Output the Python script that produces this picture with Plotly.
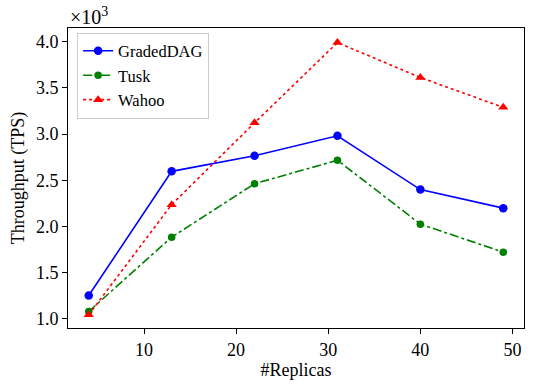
import plotly.graph_objects as go

replicas = [4, 13, 22, 31, 40, 49]
graded_dag = [1.254, 2.597, 2.766, 2.981, 2.400, 2.199]
tusk = [1.081, 1.885, 2.463, 2.717, 2.026, 1.723]
wahoo = [1.046, 2.237, 3.122, 3.990, 3.612, 3.289]
x_ticks = [10, 20, 30, 40, 50]
y_ticks = [1.0, 1.5, 2.0, 2.5, 3.0, 3.5, 4.0]

FONT = "Liberation Serif, Times New Roman, serif"

fig = go.Figure()
fig.add_trace(go.Scatter(x=replicas, y=graded_dag, name="GradedDAG", mode="lines+markers",
                         line=dict(color="#0000ff", width=1.6, dash="solid"),
                         marker=dict(symbol="circle", size=8.5, color="#0000ff")))
fig.add_trace(go.Scatter(x=replicas, y=tusk, name="Tusk", mode="lines+markers",
                         line=dict(color="#008000", width=1.6, dash="dashdot"),
                         marker=dict(symbol="circle", size=7.5, color="#008000")))
fig.add_trace(go.Scatter(x=replicas, y=wahoo, name="Wahoo", mode="lines+markers",
                         line=dict(color="#ff0000", width=1.6, dash="dot"),
                         marker=dict(symbol="triangle-up", size=9, color="#ff0000")))

axis_common = dict(showgrid=False, zeroline=False, showline=True, linecolor="black",
                   linewidth=1, mirror=True, ticks="outside", ticklen=5, tickcolor="black",
                   tickfont=dict(family=FONT, size=18, color="black"))

fig.update_layout(
    width=538, height=388,
    margin=dict(l=68, r=14, t=28, b=53),
    paper_bgcolor="white", plot_bgcolor="white",
    font=dict(family=FONT, size=18, color="black"),
    xaxis=dict(range=[1.75, 51.25], tickvals=x_ticks,
               title=dict(text="#Replicas", font=dict(family=FONT, size=18), standoff=4),
               **axis_common),
    yaxis=dict(range=[0.9025, 4.1475], tickvals=y_ticks, tickformat=".1f",
               title=dict(text="Throughput (TPS)", font=dict(family=FONT, size=18), standoff=6),
               **axis_common),
    legend=dict(x=0.02, y=0.985, xanchor="left", yanchor="top",
                bgcolor="rgba(255,255,255,0.8)", bordercolor="#cccccc", borderwidth=1,
                font=dict(family=FONT, size=16.5), tracegroupgap=0),
    showlegend=True,
    annotations=[dict(text="×10<sup>3</sup>", xref="paper", yref="paper", x=0, y=1,
                      xanchor="left", yanchor="bottom", yshift=-2, showarrow=False,
                      font=dict(family=FONT, size=20, color="black"))],
)

fig.write_html("out.html")
